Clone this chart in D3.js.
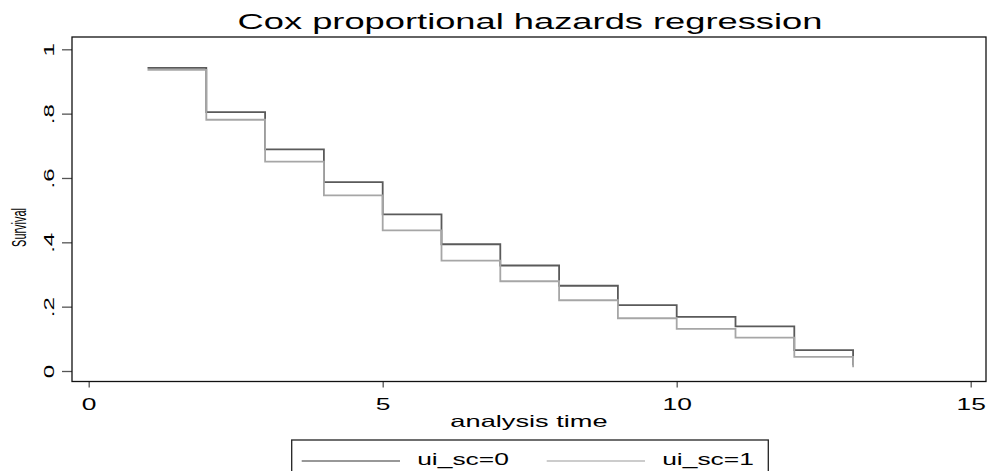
<!DOCTYPE html>
<html>
<head>
<meta charset="utf-8">
<script src="https://cdn.jsdelivr.net/npm/d3@7"></script>
<style>
	body { margin: 0; background: #fff; }
	svg { display: block; font-family: "Liberation Sans", Arial, sans-serif; }
</style>
</head>
<body>
<div id="chart"></div>
<script>
// Estimated survival by group, held constant between event times
const times = [1, 2, 3, 4, 5, 6, 7, 8, 9, 10, 11, 12, 13];
const survivalUi0 = [0.942, 0.805, 0.689, 0.587, 0.487, 0.394, 0.328, 0.265, 0.205, 0.168, 0.139, 0.065, 0.018];
const survivalUi1 = [0.936, 0.781, 0.651, 0.546, 0.437, 0.343, 0.279, 0.220, 0.164, 0.131, 0.104, 0.044, 0.012];
const groupNames = ["ui_sc=0", "ui_sc=1"];
const xTickValues = [0, 5, 10, 15];
const yTickValues = [0, 0.2, 0.4, 0.6, 0.8, 1];
const yTickLabels = ["0", ".2", ".4", ".6", ".8", "1"];

const width = 990, height = 471;
const box = { left: 72, right: 986, top: 37, bottom: 381.5 };
const colors = ["#5a5a5a", "#a6a6a6"];
const wide = 1.65; // horizontal stretch of the text

const svg = d3.select("#chart")
	.append("svg")
	.attr("width", width)
	.attr("height", height);

const x = d3.scaleLinear().domain([0, 15]).range([88.7, 970.7]);
const y = d3.scaleLinear().domain([0, 1]).range([371, 49.3]);

function label(parent, text, px, py, size, anchor, sx) {
	return parent.append("text")
		.attr("transform", "translate(" + px + "," + py + ") scale(" + sx + ",1)")
		.attr("text-anchor", anchor)
		.attr("font-size", size)
		.attr("fill", "#000")
		.text(text);
}

// Title
label(svg, "Cox proportional hazards regression", 530, 29, 22, "middle", wide);

// X axis
const xAxis = d3.axisBottom(x)
	.tickValues(xTickValues)
	.tickFormat(d3.format("d"))
	.tickSize(6)
	.tickSizeOuter(0);
const xAxisGroup = svg.append("g")
	.attr("transform", "translate(0," + box.bottom + ")")
	.call(xAxis);
xAxisGroup.select(".domain").remove();
xAxisGroup.selectAll(".tick line").attr("stroke", "#555").attr("stroke-width", 1.3);
xAxisGroup.selectAll(".tick text")
	.attr("y", null)
	.attr("dy", null)
	.attr("transform", "translate(0,28) scale(1.6,1)")
	.attr("font-size", 16.5)
	.attr("font-family", null)
	.attr("fill", "#000");

// Y axis
const yAxis = d3.axisLeft(y)
	.tickValues(yTickValues)
	.tickFormat((d, i) => yTickLabels[i])
	.tickSize(10)
	.tickSizeOuter(0);
const yAxisGroup = svg.append("g")
	.attr("transform", "translate(" + box.left + ",0)")
	.call(yAxis);
yAxisGroup.select(".domain").remove();
yAxisGroup.selectAll(".tick line").attr("stroke", "#555").attr("stroke-width", 1.3);
yAxisGroup.selectAll(".tick text")
	.attr("x", null)
	.attr("dy", null)
	.attr("text-anchor", "middle")
	.attr("transform", "translate(-18.5,0) rotate(-90) scale(1.6,1)")
	.attr("font-size", 15)
	.attr("font-family", null)
	.attr("fill", "#000");

// Axis titles
label(svg, "analysis time", 529, 427, 16.5, "middle", wide);
svg.append("text")
	.attr("transform", "translate(25.5,227.5) rotate(-90) scale(0.52,1)")
	.attr("text-anchor", "middle")
	.attr("font-size", 21)
	.text("Survival");

// Plot region border
svg.append("rect")
	.attr("x", box.left)
	.attr("y", box.top)
	.attr("width", box.right - box.left)
	.attr("height", box.bottom - box.top)
	.attr("fill", "none")
	.attr("stroke", "#111")
	.attr("stroke-width", 1.3);

// Survival step curves
const step = d3.line()
	.x(d => x(d[0]))
	.y(d => y(d[1]))
	.curve(d3.curveStepAfter);

[survivalUi0, survivalUi1].forEach((values, i) => {
	svg.append("path")
		.datum(times.map((t, j) => [t, values[j]]))
		.attr("d", step)
		.attr("fill", "none")
		.attr("stroke", colors[i])
		.attr("stroke-width", 1.8);
});

// Legend
const legend = svg.append("g");
legend.append("rect")
	.attr("x", 291.7)
	.attr("y", 440)
	.attr("width", 476.6)
	.attr("height", 40)
	.attr("fill", "#fff")
	.attr("stroke", "#222")
	.attr("stroke-width", 1.3);
const legendX = [301.7, 546.7];
groupNames.forEach((name, i) => {
	legend.append("line")
		.attr("x1", legendX[i])
		.attr("x2", legendX[i] + 98.3)
		.attr("y1", 461)
		.attr("y2", 461)
		.attr("stroke", i === 0 ? "#333" : "#999")
		.attr("stroke-width", 1.2);
	label(legend, name, legendX[i] + 115.5, 464.5, 16, "start", wide);
});
</script>
</body>
</html>
